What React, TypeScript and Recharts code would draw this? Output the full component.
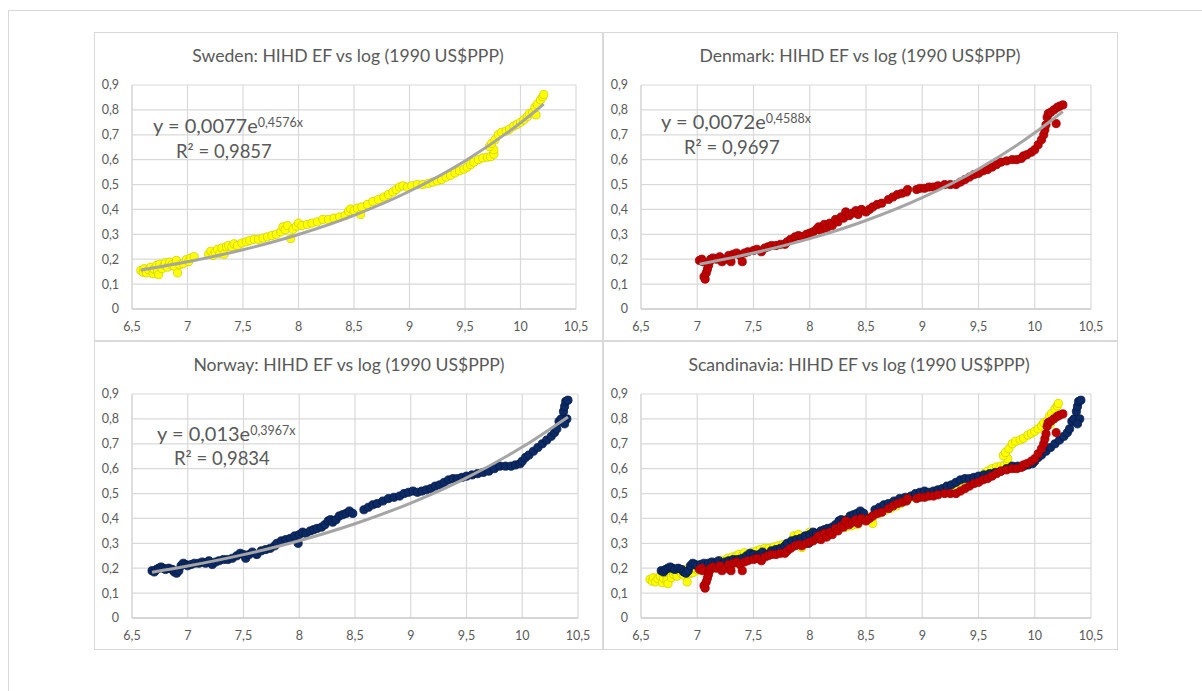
import React from 'react';
import { ScatterChart, Scatter, XAxis, YAxis, CartesianGrid } from 'recharts';

type Pt = [number, number];

const xTicks = [6.5, 7, 7.5, 8, 8.5, 9, 9.5, 10, 10.5];
const yTicks = [0, 0.1, 0.2, 0.3, 0.4, 0.5, 0.6, 0.7, 0.8, 0.9];

const swedenPoints: Pt[] = [
  [6.58, 0.155], [6.6, 0.148], [6.61, 0.162], [6.63, 0.145], [6.65, 0.158], [6.67, 0.168], [6.69, 0.142], [6.7, 0.16],
  [6.72, 0.175], [6.73, 0.15], [6.74, 0.138], [6.75, 0.18], [6.77, 0.162], [6.79, 0.176], [6.8, 0.185], [6.82, 0.168],
  [6.84, 0.188], [6.86, 0.178], [6.88, 0.172], [6.9, 0.195], [6.91, 0.145], [6.93, 0.178], [6.96, 0.182], [6.99, 0.198],
  [7.01, 0.19], [7.03, 0.205], [7.06, 0.21], [7.19, 0.22], [7.21, 0.232], [7.23, 0.215], [7.25, 0.228], [7.27, 0.24],
  [7.29, 0.222], [7.31, 0.245], [7.33, 0.22], [7.35, 0.25], [7.37, 0.255], [7.4, 0.25], [7.42, 0.262], [7.45, 0.255],
  [7.49, 0.265], [7.53, 0.27], [7.56, 0.275], [7.6, 0.28], [7.64, 0.28], [7.68, 0.285], [7.72, 0.29], [7.76, 0.295],
  [7.8, 0.3], [7.84, 0.31], [7.86, 0.33], [7.88, 0.318], [7.9, 0.335], [7.93, 0.283], [7.95, 0.32], [7.98, 0.332],
  [8.0, 0.345], [8.03, 0.335], [8.08, 0.34], [8.12, 0.345], [8.17, 0.35], [8.22, 0.36], [8.27, 0.36], [8.32, 0.365],
  [8.37, 0.37], [8.42, 0.375], [8.45, 0.392], [8.47, 0.402], [8.5, 0.395], [8.53, 0.405], [8.56, 0.38], [8.57, 0.41],
  [8.62, 0.42], [8.67, 0.432], [8.72, 0.44], [8.77, 0.45], [8.81, 0.46], [8.85, 0.47], [8.88, 0.48], [8.91, 0.49],
  [8.94, 0.495], [8.98, 0.49], [9.02, 0.495], [9.07, 0.5], [9.12, 0.5], [9.17, 0.505], [9.21, 0.51], [9.25, 0.515],
  [9.29, 0.52], [9.33, 0.53], [9.37, 0.537], [9.41, 0.547], [9.45, 0.555], [9.49, 0.562], [9.52, 0.57], [9.55, 0.58],
  [9.58, 0.59], [9.62, 0.6], [9.66, 0.607], [9.7, 0.61], [9.73, 0.612], [9.76, 0.622], [9.76, 0.64], [9.72, 0.652],
  [9.74, 0.665], [9.77, 0.68], [9.8, 0.7], [9.83, 0.71], [9.87, 0.715], [9.9, 0.722], [9.94, 0.735], [9.97, 0.742],
  [10.0, 0.75], [10.03, 0.76], [10.06, 0.772], [10.08, 0.785], [10.11, 0.79], [10.14, 0.78], [10.13, 0.81], [10.15, 0.822],
  [10.18, 0.84], [10.2, 0.852], [10.21, 0.862],
];

const denmarkPoints: Pt[] = [
  [7.02, 0.195], [7.04, 0.2], [7.05, 0.19], [7.06, 0.13], [7.07, 0.12], [7.08, 0.145], [7.09, 0.16], [7.1, 0.175],
  [7.11, 0.19], [7.12, 0.2], [7.14, 0.205], [7.17, 0.2], [7.2, 0.21], [7.22, 0.19], [7.25, 0.2], [7.28, 0.215],
  [7.3, 0.19], [7.32, 0.22], [7.35, 0.225], [7.38, 0.215], [7.4, 0.19], [7.42, 0.225], [7.45, 0.23], [7.5, 0.235],
  [7.53, 0.24], [7.57, 0.23], [7.6, 0.245], [7.63, 0.25], [7.66, 0.255], [7.7, 0.255], [7.74, 0.26], [7.78, 0.26],
  [7.8, 0.27], [7.83, 0.28], [7.87, 0.29], [7.9, 0.295], [7.93, 0.29], [7.97, 0.3], [8.0, 0.305], [8.03, 0.31],
  [8.06, 0.32], [8.08, 0.33], [8.1, 0.315], [8.13, 0.34], [8.15, 0.325], [8.18, 0.345], [8.2, 0.335], [8.23, 0.36],
  [8.25, 0.35], [8.28, 0.37], [8.3, 0.365], [8.32, 0.39], [8.35, 0.375], [8.38, 0.385], [8.41, 0.395], [8.43, 0.38],
  [8.46, 0.4], [8.5, 0.39], [8.53, 0.4], [8.56, 0.41], [8.6, 0.42], [8.64, 0.425], [8.7, 0.44], [8.74, 0.45],
  [8.78, 0.46], [8.82, 0.465], [8.86, 0.47], [8.87, 0.48], [8.95, 0.48], [8.98, 0.485], [9.02, 0.485], [9.06, 0.49],
  [9.1, 0.49], [9.14, 0.495], [9.2, 0.5], [9.25, 0.5], [9.3, 0.5], [9.34, 0.51], [9.38, 0.52], [9.42, 0.53],
  [9.46, 0.54], [9.5, 0.545], [9.54, 0.555], [9.58, 0.56], [9.62, 0.57], [9.66, 0.58], [9.7, 0.59], [9.75, 0.595],
  [9.8, 0.6], [9.84, 0.6], [9.88, 0.605], [9.9, 0.615], [9.93, 0.62], [9.97, 0.63], [10.0, 0.64], [10.03, 0.66],
  [10.06, 0.68], [10.08, 0.7], [10.09, 0.72], [10.1, 0.74], [10.11, 0.77], [10.12, 0.785], [10.14, 0.79], [10.17, 0.8],
  [10.19, 0.745], [10.2, 0.81], [10.22, 0.815], [10.25, 0.82],
];

const norwayPoints: Pt[] = [
  [6.68, 0.19], [6.7, 0.185], [6.72, 0.195], [6.74, 0.2], [6.76, 0.205], [6.78, 0.2], [6.8, 0.195], [6.83, 0.2],
  [6.86, 0.195], [6.88, 0.185], [6.9, 0.18], [6.92, 0.19], [6.94, 0.21], [6.96, 0.22], [6.98, 0.215], [7.0, 0.21],
  [7.03, 0.215], [7.06, 0.22], [7.1, 0.22], [7.13, 0.225], [7.16, 0.22], [7.19, 0.23], [7.22, 0.215], [7.25, 0.225],
  [7.28, 0.23], [7.32, 0.235], [7.36, 0.235], [7.4, 0.24], [7.44, 0.25], [7.47, 0.26], [7.5, 0.255], [7.52, 0.24],
  [7.55, 0.255], [7.58, 0.265], [7.62, 0.255], [7.66, 0.27], [7.7, 0.275], [7.74, 0.28], [7.78, 0.29], [7.8, 0.3],
  [7.84, 0.31], [7.88, 0.315], [7.92, 0.32], [7.96, 0.33], [7.99, 0.3], [8.0, 0.335], [8.03, 0.345], [8.06, 0.34],
  [8.1, 0.35], [8.13, 0.355], [8.16, 0.36], [8.2, 0.365], [8.23, 0.375], [8.26, 0.39], [8.28, 0.395], [8.3, 0.385],
  [8.33, 0.395], [8.36, 0.41], [8.39, 0.415], [8.42, 0.42], [8.45, 0.43], [8.48, 0.42], [8.58, 0.435], [8.62, 0.445],
  [8.66, 0.455], [8.7, 0.46], [8.75, 0.47], [8.8, 0.48], [8.85, 0.485], [8.9, 0.49], [8.94, 0.5], [8.98, 0.505],
  [9.02, 0.51], [9.06, 0.505], [9.1, 0.51], [9.14, 0.515], [9.18, 0.52], [9.22, 0.53], [9.26, 0.535], [9.3, 0.545],
  [9.34, 0.555], [9.38, 0.56], [9.42, 0.56], [9.46, 0.565], [9.5, 0.57], [9.55, 0.575], [9.6, 0.58], [9.65, 0.585],
  [9.7, 0.59], [9.75, 0.6], [9.8, 0.61], [9.85, 0.61], [9.9, 0.61], [9.94, 0.615], [9.98, 0.62], [10.0, 0.63],
  [10.03, 0.645], [10.06, 0.655], [10.1, 0.67], [10.14, 0.685], [10.18, 0.7], [10.22, 0.715], [10.26, 0.73], [10.29, 0.745],
  [10.31, 0.76], [10.33, 0.79], [10.35, 0.8], [10.37, 0.83], [10.38, 0.85], [10.39, 0.87], [10.41, 0.875], [10.4, 0.8],
  [10.38, 0.78],
];

const swedenTrend: Pt[] = [
  [6.58, 0.1564], [7.0, 0.1895], [7.5, 0.2382], [8.0, 0.2995], [8.5, 0.3764], [9.0, 0.4731], [9.5, 0.5949], [10.0, 0.7479], [10.21, 0.8234],
];
const denmarkTrend: Pt[] = [
  [7.02, 0.1803], [7.5, 0.2248], [8.0, 0.2826], [8.5, 0.3555], [9.0, 0.4473], [9.5, 0.5627], [10.0, 0.7078], [10.25, 0.7937],
];
const norwayTrend: Pt[] = [
  [6.68, 0.1839], [7.0, 0.2089], [7.5, 0.2547], [8.0, 0.3106], [8.5, 0.3788], [9.0, 0.4619], [9.5, 0.5632], [10.0, 0.6868], [10.41, 0.808],
];

const toRows = (pts: Pt[]) => pts.map(([x, y]) => ({ x, y }));
const fmt = (v: number) => String(v).replace('.', ',');

const TEXT = '#595959';
const FONT = 'Lato, "Open Sans", sans-serif';

type SeriesDef = { name: string; pts: Pt[]; fill: string; stroke: string };

const SWE: SeriesDef = { name: 'Sweden', pts: swedenPoints, fill: '#FFFF00', stroke: '#CFCF00' };
const DEN: SeriesDef = { name: 'Denmark', pts: denmarkPoints, fill: '#C00000', stroke: '#980000' };
const NOR: SeriesDef = { name: 'Norway', pts: norwayPoints, fill: '#0B2A66', stroke: '#061B45' };

const makeDot = (fill: string, stroke: string) => (p: any) => (
  <circle cx={p.cx} cy={p.cy} r={4.1} fill={fill} stroke={stroke} strokeWidth={0.8} />
);
const noDot = () => <g />;

function Panel(props: {
  left: number; top: number; width: number; height: number; right: number;
  series: SeriesDef[]; trend?: Pt[];
}) {
  const { left, top, width, height, right, series, trend } = props;
  return (
    <div style={{ position: 'absolute', left, top, width, height, border: '1px solid #D9D9D9', boxSizing: 'border-box', background: '#fff' }}>
      <div style={{ position: 'absolute', left: -1, top: -1 }}>
        <ScatterChart width={width} height={height} margin={{ top: 53, right, bottom: 7, left: 0 }}>
          <CartesianGrid stroke="#D9D9D9" strokeWidth={1.2} />
          <XAxis
            type="number" dataKey="x" domain={[6.5, 10.5]} ticks={xTicks} interval={0}
            tickFormatter={fmt} axisLine={{ stroke: '#BFBFBF', strokeWidth: 1.2 }} tickLine={false}
            tickSize={0} tickMargin={13} height={25}
            tick={{ fill: TEXT, fontSize: 12.5, fontFamily: FONT }} allowDataOverflow
          />
          <YAxis
            type="number" dataKey="y" domain={[0, 0.9]} ticks={yTicks} interval={0}
            tickFormatter={fmt} axisLine={{ stroke: '#D9D9D9', strokeWidth: 1.2 }} tickLine={false}
            tickSize={0} tickMargin={13} width={38}
            tick={{ fill: TEXT, fontSize: 12.5, fontFamily: FONT }} allowDataOverflow
          />
          {series.map((s) => (
            <Scatter key={s.name} name={s.name} data={toRows(s.pts)} fill={s.fill}
              shape={makeDot(s.fill, s.stroke)} isAnimationActive={false} />
          ))}
          {trend && (
            <Scatter name="trend" data={toRows(trend)} fill="#A5A5A5" shape={noDot}
              line={{ stroke: '#A5A5A5', strokeWidth: 3 }} lineJointType="monotoneX" isAnimationActive={false} />
          )}
        </ScatterChart>
      </div>
    </div>
  );
}

function Equation(props: { x: number; y: number; a: string; b: string; r2: string; rx: number; ry: number }) {
  const { x, y, a, b, r2, rx, ry } = props;
  return (
    <g fill={TEXT} fontFamily={FONT}>
      <text x={x} y={y} fontSize={20}>
        {`y = ${a}e`}
        <tspan fontSize={12.5} dy={-6}>{`${b}x`}</tspan>
      </text>
      <text x={rx} y={ry} fontSize={18.5}>{`R² = ${r2}`}</text>
    </g>
  );
}

export default function App() {
  return (
    <div style={{ position: 'fixed', left: 0, top: 0, width: 1202, height: 691, background: '#fff', overflow: 'hidden' }}>
      <div style={{ position: 'absolute', left: 8, top: 10, width: 1400, height: 900, border: '1px solid #D9D9D9' }} />
      <Panel left={94} top={32} width={509} height={309} right={27} series={[SWE]} trend={swedenTrend} />
      <Panel left={603} top={32} width={515} height={309} right={27} series={[DEN]} trend={denmarkTrend} />
      <Panel left={94} top={341} width={509} height={309} right={25} series={[NOR]} trend={norwayTrend} />
      <Panel left={603} top={341} width={515} height={309} right={27} series={[SWE, NOR, DEN]} />
      <svg width={1202} height={691} style={{ position: 'absolute', left: 0, top: 0, pointerEvents: 'none' }}>
        <g fill={TEXT} fontFamily={FONT} fontSize={17.6} textAnchor="middle">
          <text x={348} y={62}>Sweden:  HIHD EF vs log (1990 US$PPP)</text>
          <text x={860} y={62}>Denmark: HIHD EF vs log (1990 US$PPP)</text>
          <text x={349} y={371}>Norway: HIHD EF vs log (1990 US$PPP)</text>
          <text x={859} y={371}>Scandinavia:  HIHD EF vs log (1990 US$PPP)</text>
        </g>
        <Equation x={153} y={133} a="0,0077" b="0,4576" r2="0,9857" rx={176} ry={158} />
        <Equation x={661} y={129} a="0,0072" b="0,4588" r2="0,9697" rx={684} ry={154} />
        <Equation x={157} y={441} a="0,013" b="0,3967" r2="0,9834" rx={174} ry={465} />
      </svg>
    </div>
  );
}
